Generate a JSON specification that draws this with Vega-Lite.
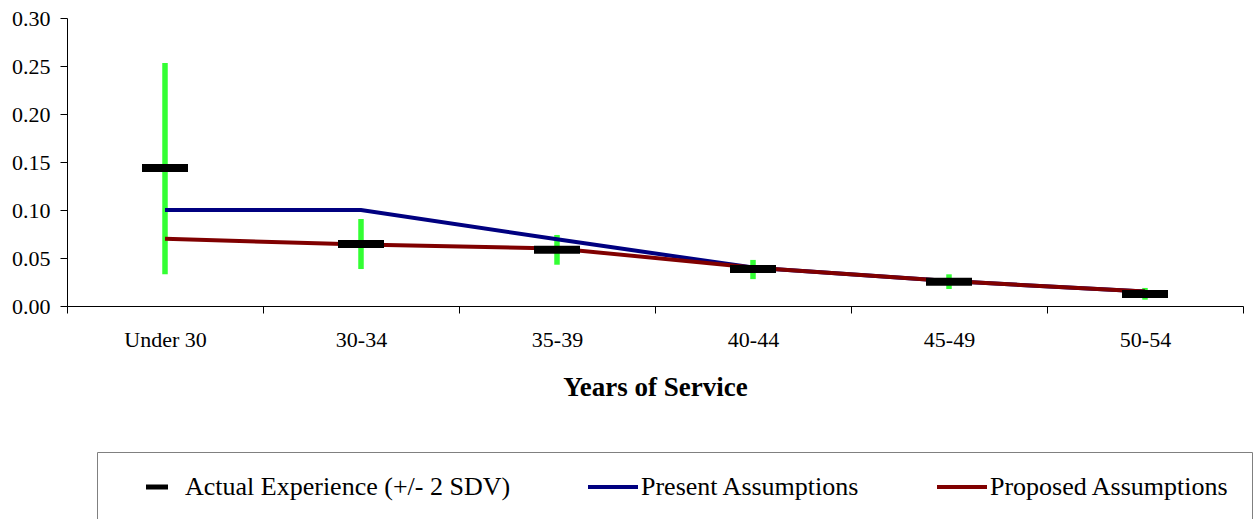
{
  "$schema": "https://vega.github.io/schema/vega-lite/v6.json",
  "width": 1176,
  "height": 288,
  "autosize": {"type": "none"},
  "padding": {"left": 67, "top": 18, "right": 17, "bottom": 213},
  "background": "white",
  "config": {"view": {"stroke": null}, "font": "Liberation Serif, Times New Roman, serif"},
  "datasets": {
    "actual": [
      {"group": "Under 30", "value": 0.1437, "low": 0.033, "high": 0.253},
      {"group": "30-34", "value": 0.0646, "low": 0.0385, "high": 0.0906},
      {"group": "35-39", "value": 0.0587, "low": 0.043, "high": 0.074},
      {"group": "40-44", "value": 0.0385, "low": 0.028, "high": 0.048},
      {"group": "45-49", "value": 0.0253, "low": 0.0177, "high": 0.033},
      {"group": "50-54", "value": 0.0125, "low": 0.0066, "high": 0.0188}
    ],
    "lines": [
      {"series": "Present Assumptions", "group": "Under 30", "idx": 1, "value": 0.10},
      {"series": "Present Assumptions", "group": "30-34", "idx": 2, "value": 0.10},
      {"series": "Present Assumptions", "group": "35-39", "idx": 3, "value": 0.0695},
      {"series": "Present Assumptions", "group": "40-44", "idx": 4, "value": 0.04},
      {"series": "Present Assumptions", "group": "45-49", "idx": 5, "value": 0.026},
      {"series": "Present Assumptions", "group": "50-54", "idx": 6, "value": 0.015},
      {"series": "Proposed Assumptions", "group": "Under 30", "idx": 1, "value": 0.07},
      {"series": "Proposed Assumptions", "group": "30-34", "idx": 2, "value": 0.064},
      {"series": "Proposed Assumptions", "group": "35-39", "idx": 3, "value": 0.06},
      {"series": "Proposed Assumptions", "group": "40-44", "idx": 4, "value": 0.04},
      {"series": "Proposed Assumptions", "group": "45-49", "idx": 5, "value": 0.026},
      {"series": "Proposed Assumptions", "group": "50-54", "idx": 6, "value": 0.015}
    ]
  },
  "encoding": {
    "x": {
      "field": "group",
      "type": "nominal",
      "sort": ["Under 30", "30-34", "35-39", "40-44", "45-49", "50-54"],
      "scale": {"type": "band", "paddingInner": 0, "paddingOuter": 0, "domain": ["Under 30", "30-34", "35-39", "40-44", "45-49", "50-54"]},
      "axis": {
        "title": "Years of Service",
        "labelAngle": 0,
        "tickBand": "extent",
        "tickSize": 7,
        "tickColor": "black",
        "domainColor": "black",
        "labelPadding": 16,
        "labelFontSize": 22,
        "labelColor": "black",
        "labelFont": "Liberation Serif",
        "titleFont": "Liberation Serif",
        "titleFontSize": 27,
        "titleFontWeight": "bold",
        "titleColor": "black",
        "titleBaseline": "alphabetic",
        "titleY": 89
      }
    }
  },
  "layer": [
    {
      "data": {"name": "actual"},
      "mark": {"type": "rule", "color": "#33FF33", "strokeWidth": 5.5},
      "encoding": {
        "y": {
          "field": "low",
          "type": "quantitative",
          "scale": {"domain": [0, 0.3], "nice": false, "zero": true},
          "axis": {
            "title": null,
            "values": [0, 0.05, 0.1, 0.15, 0.2, 0.25, 0.3],
            "format": ".2f",
            "grid": false,
            "tickSize": 7,
            "tickColor": "black",
            "domainColor": "black",
            "labelPadding": 10,
            "labelFontSize": 22,
            "labelColor": "black",
            "labelFont": "Liberation Serif"
          }
        },
        "y2": {"field": "high"}
      }
    },
    {
      "data": {"name": "lines"},
      "mark": {"type": "line", "strokeWidth": 4},
      "encoding": {
        "y": {"field": "value", "type": "quantitative"},
        "order": {"field": "idx", "type": "quantitative"},
        "color": {
          "field": "series",
          "type": "nominal",
          "scale": {
            "domain": ["Actual Experience (+/- 2 SDV)", "Present Assumptions", "Proposed Assumptions"],
            "range": ["#000000", "#000080", "#800000"]
          },
          "legend": {
            "orient": "none",
            "legendX": 30,
            "legendY": 434,
            "direction": "horizontal",
            "title": null,
            "symbolType": "stroke",
            "symbolSize": 2500,
            "symbolStrokeWidth": 4,
            "symbolOffset": 25,
            "labelOffset": 15,
            "labelFontSize": 26,
            "labelFont": "Liberation Serif",
            "labelColor": "black",
            "labelLimit": 0,
            "padding": 22,
            "strokeColor": "#808080",
            "columnPadding": 64,
            "encode": {
              "labels": {
                "update": {
                  "text": {"signal": "datum.value === 'Proposed Assumptions' ? datum.label + '\u00a0\u00a0\u00a0\u00a0\u00a0\u00a0\u00a0' : datum.label"}
                }
              },
              "symbols": {
                "update": {
                  "shape": {"signal": "datum.value === 'Actual Experience (+/- 2 SDV)' ? 'M-0.44,0H0.44' : 'stroke'"},
                  "strokeWidth": {"signal": "datum.value === 'Actual Experience (+/- 2 SDV)' ? 5 : 4"}
                }
              }
            }
          }
        }
      }
    },
    {
      "data": {"name": "actual"},
      "mark": {"type": "tick", "color": "black", "size": 46, "thickness": 8, "opacity": 1},
      "encoding": {
        "y": {"field": "value", "type": "quantitative"}
      }
    }
  ]
}
